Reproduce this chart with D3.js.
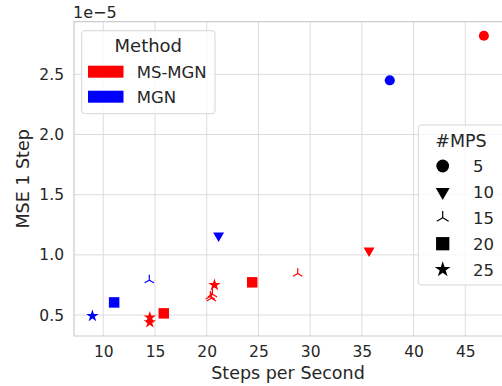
<!DOCTYPE html>
<html><head><meta charset="utf-8">
<script src="https://cdn.jsdelivr.net/npm/d3@7"></script>
<style>body{margin:0;background:#fff}svg{display:block;font-family:"DejaVu Sans",sans-serif}</style>
</head><body><svg id="c" width="502" height="386"></svg>
<script>
// Data (MSE in units of 1e-5)
const msmgnSteps = [46.8, 35.7, 28.8, 20.35, 20.55, 20.45, 24.4, 15.85, 20.75, 14.5, 14.5];
const msmgnMSE   = [2.82, 1.035, 0.845, 0.655, 0.672, 0.64, 0.772, 0.514, 0.75, 0.48, 0.44];
const msmgnMPS   = [5, 10, 15, 15, 15, 15, 20, 20, 25, 25, 25];
const mgnSteps = [37.7, 21.15, 14.45, 11.05, 8.95];
const mgnMSE   = [2.45, 1.16, 0.79, 0.605, 0.492];
const mgnMPS   = [5, 10, 15, 20, 25];
const methods = ["MS-MGN", "MGN"];
const methodColors = ["#ff0000", "#0000ff"];
const mpsLevels = [5, 10, 15, 20, 25];
const xTicks = [10, 15, 20, 25, 30, 35, 40, 45];
const yTicks = [0.5, 1.0, 1.5, 2.0, 2.5];

const svg = d3.select("#c");
const L = 74, R = 502, T = 21.7, B = 336;
const x = d3.scaleLinear().domain([7.17, 48.55]).range([L, R]);
const y = d3.scaleLinear().domain([0.326, 2.937]).range([B, T]);
const ink = "#262626", gridC = "#dcdcdc";

// grid
svg.append("g").selectAll("line").data(xTicks).join("line")
  .attr("x1", d => x(d)).attr("x2", d => x(d)).attr("y1", T).attr("y2", B)
  .attr("stroke", gridC).attr("stroke-width", 1);
svg.append("g").selectAll("line").data(yTicks).join("line")
  .attr("y1", d => y(d)).attr("y2", d => y(d)).attr("x1", L).attr("x2", R)
  .attr("stroke", gridC).attr("stroke-width", 1);
// spines
svg.append("path").attr("d", `M${R},${T}H${L}V${B}H${R}`).attr("fill", "none")
  .attr("stroke", "#cccccc").attr("stroke-width", 1.2);

// axes via d3 axis
const xa = svg.append("g").attr("transform", `translate(0,${B})`)
  .call(d3.axisBottom(x).tickValues(xTicks).tickSize(0).tickPadding(10).tickFormat(d3.format("d")));
const ya = svg.append("g").attr("transform", `translate(${L},0)`)
  .call(d3.axisLeft(y).tickValues(yTicks).tickSize(0).tickPadding(10).tickFormat(d3.format(".1f")));
[xa, ya].forEach(a => {
  a.select(".domain").remove();
  a.selectAll("text").attr("fill", ink).style("font-size", "15.5px").style("font-family", "DejaVu Sans");
});

svg.append("text").attr("x", 73).attr("y", 18).attr("fill", ink).style("font-size", "16px").text("1e\u22125");
svg.append("text").attr("x", (L + R) / 2).attr("y", 378.5).attr("text-anchor", "middle")
  .attr("fill", ink).style("font-size", "17.5px").text("Steps per Second");
svg.append("text").attr("transform", `translate(29,${(T + B) / 2}) rotate(-90)`).attr("text-anchor", "middle")
  .attr("fill", ink).style("font-size", "17.5px").text("MSE 1 Step");

// markers
function markerPath(mps, s) {
  if (mps === 5) return d3.symbol(d3.symbolCircle, 80 * s)();
  if (mps === 10) return d3.symbol(d3.symbolTriangle, 52 * s)();
  if (mps === 20) return d3.symbol(d3.symbolSquare, 110 * s)();
  if (mps === 25) return d3.symbol(d3.symbolStar, 48 * s)();
  const r = 5.4 * Math.sqrt(s);
  const a1 = Math.PI / 6;
  return `M0,0L0,${-r}M0,0L${r * Math.cos(a1)},${r * Math.sin(a1)}M0,0L${-r * Math.cos(a1)},${r * Math.sin(a1)}`;
}
function drawMark(g, mps, color, s) {
  const p = g.append("path").attr("d", markerPath(mps, s));
  if (mps === 15) p.attr("fill", "none").attr("stroke", color).attr("stroke-width", 1.2);
  else p.attr("fill", color);
  if (mps === 10) p.attr("transform", "rotate(180)");
  return p;
}
const series = [
  {xs: msmgnSteps, ys: msmgnMSE, ms: msmgnMPS, color: methodColors[0]},
  {xs: mgnSteps, ys: mgnMSE, ms: mgnMPS, color: methodColors[1]}
];
const pts = svg.append("g");
series.forEach(sr => {
  sr.xs.forEach((v, i) => {
    const g = pts.append("g").attr("transform", `translate(${x(v)},${y(sr.ys[i])})`);
    drawMark(g, sr.ms[i], sr.color, 1);
  });
});

// Method legend
const lg1 = svg.append("g");
lg1.append("rect").attr("x", 81.7).attr("y", 30.7).attr("width", 133.3).attr("height", 83)
  .attr("rx", 3).attr("fill", "#fff").attr("fill-opacity", 0.8).attr("stroke", "#d6d6d6");
lg1.append("text").attr("x", 148.3).attr("y", 51.5).attr("text-anchor", "middle").attr("fill", ink)
  .style("font-size", "18px").text("Method");
methods.forEach((m, i) => {
  const yy = 65.7 + i * 25;
  lg1.append("rect").attr("x", 88).attr("y", yy).attr("width", 35.5).attr("height", 12).attr("fill", methodColors[i]);
  lg1.append("text").attr("x", 136.7).attr("y", yy + 11.8).attr("fill", ink).style("font-size", "16.5px").text(m);
});

// #MPS legend
const lg2 = svg.append("g");
lg2.append("rect").attr("x", 418.3).attr("y", 125).attr("width", 90).attr("height", 160)
  .attr("rx", 3).attr("fill", "#fff").attr("fill-opacity", 0.8).attr("stroke", "#d6d6d6");
lg2.append("text").attr("x", 461).attr("y", 146.5).attr("text-anchor", "middle").attr("fill", ink)
  .style("font-size", "17.5px").text("#MPS");
mpsLevels.forEach((m, i) => {
  const yy = 166 + i * 25.9;
  const g = lg2.append("g").attr("transform", `translate(442.7,${yy})`);
  drawMark(g, m, "#000", 1.6);
  lg2.append("text").attr("x", 473).attr("y", yy + 6).attr("fill", ink).style("font-size", "16.5px").text(m);
});
</script></body></html>
